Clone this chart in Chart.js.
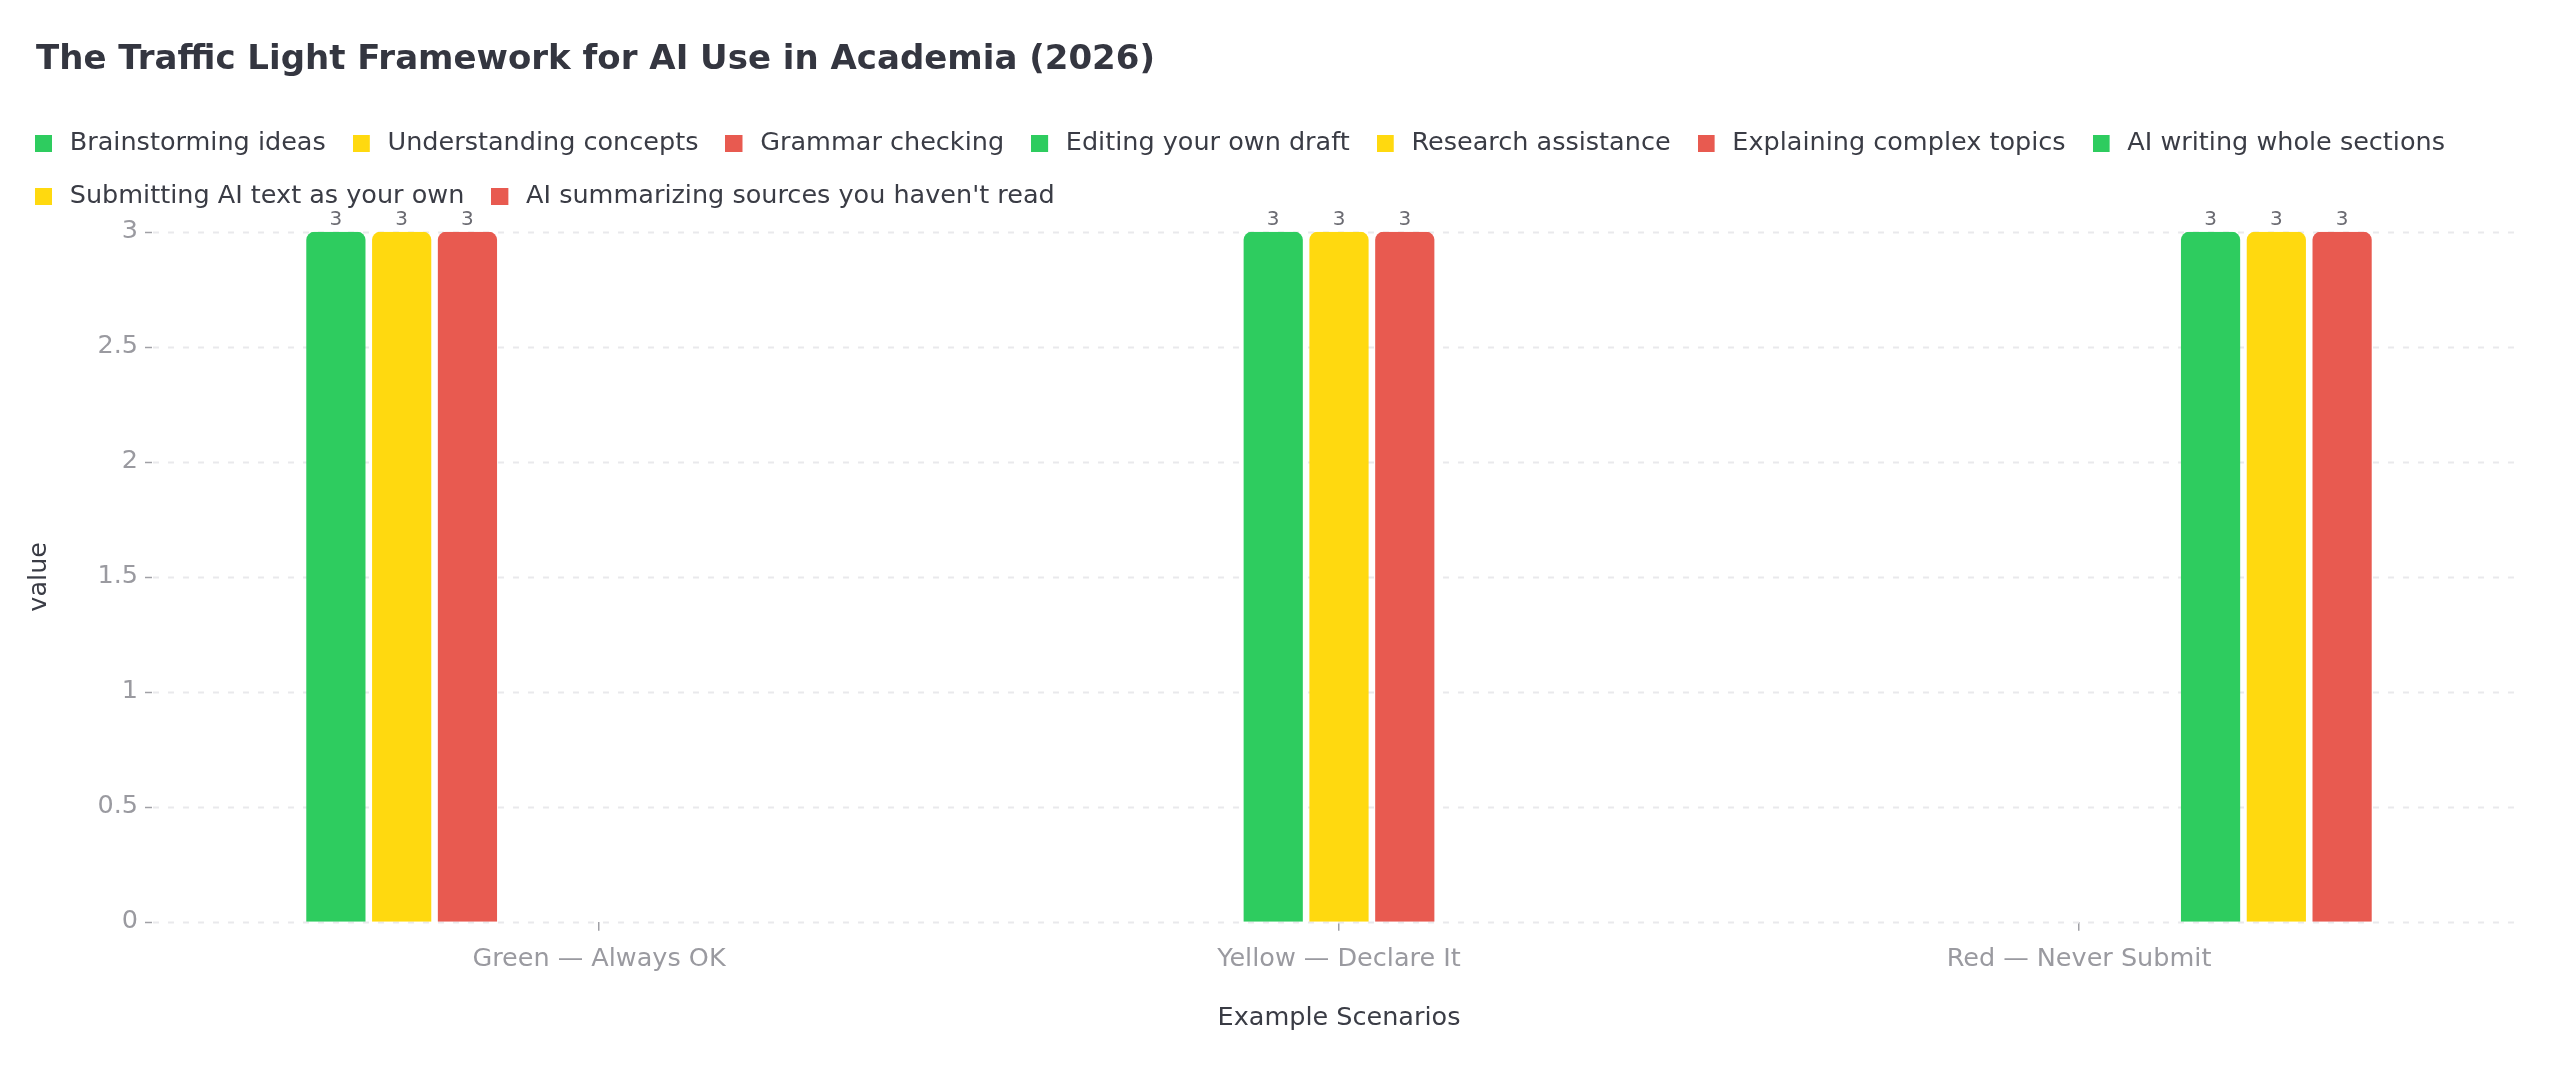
<!DOCTYPE html>
<html>
<head>
<meta charset="utf-8">
<script src="https://cdn.jsdelivr.net/npm/chart.js@4.4.1/dist/chart.umd.min.js"></script>
<style>
	html, body { margin: 0; padding: 0; background: #fff; }
	#wrap { width: 2560px; height: 1067px; }
</style>
</head>
<body>
<div id="wrap"><canvas id="chart"></canvas></div>
<script>
// categories on the x axis
const categories = ['Green \u2014 Always OK', 'Yellow \u2014 Declare It', 'Red \u2014 Never Submit'];

// one series per scenario, each only present in its own category
const seriesNames = [
	'Brainstorming ideas',
	'Understanding concepts',
	'Grammar checking',
	'Editing your own draft',
	'Research assistance',
	'Explaining complex topics',
	'AI writing whole sections',
	'Submitting AI text as your own',
	"AI summarizing sources you haven't read",
];
const seriesValues = [
	[3, null, null],
	[3, null, null],
	[3, null, null],
	[null, 3, null],
	[null, 3, null],
	[null, 3, null],
	[null, null, 3],
	[null, null, 3],
	[null, null, 3],
];
const yTicks = [0, 0.5, 1, 1.5, 2, 2.5, 3];

const palette = ['#2ecc5f', '#ffd90f', '#e85a50'];
const FONT = "'DejaVu Sans', sans-serif";

// legend marker: a square at the left of a slightly wider transparent tile
function swatch(color) {
	const c = document.createElement('canvas');
	c.width = 22;
	c.height = 17;
	const g = c.getContext('2d');
	g.fillStyle = color;
	g.fillRect(0, 0, 17, 17);
	return c;
}

let datasets = [];
for(let i=0; i<seriesNames.length; i++)
{
	datasets.push({
		label: seriesNames[i],
		data: seriesValues[i],
		backgroundColor: palette[i%3],
		pointStyle: swatch(palette[i%3]),
		borderWidth: 0,
		borderRadius: 8,
		categoryPercentage: 0.8,
		barPercentage: 0.9,
	});
}

// dashed grid that runs wider than the plot area, plus the small y tick marks
const wideGrid = {
	id: 'wideGrid',
	beforeDatasetsDraw(chart) {
		const ctx = chart.ctx;
		const y = chart.scales.y;
		const a = chart.chartArea;
		const x1 = a.left - 76, x2 = a.right + 71;
		ctx.save();
		for(const t of y.ticks)
		{
			const py = Math.round(y.getPixelForValue(t.value)) + 0.5;
			ctx.setLineDash([6, 9]);
			ctx.strokeStyle = '#e9e9ec';
			ctx.lineWidth = 2;
			ctx.beginPath();
			ctx.moveTo(x1, py);
			ctx.lineTo(x2, py);
			ctx.stroke();
			ctx.setLineDash([]);
			ctx.strokeStyle = '#a0a0a6';
			ctx.lineWidth = 1.5;
			ctx.beginPath();
			ctx.moveTo(x1 - 8, py);
			ctx.lineTo(x1 - 1, py);
			ctx.stroke();
		}
		ctx.restore();
	}
};

// value written above each bar
const barLabels = {
	id: 'barLabels',
	afterDatasetsDraw(chart) {
		const ctx = chart.ctx;
		ctx.save();
		ctx.font = '20px ' + FONT;
		ctx.fillStyle = '#6b6b72';
		ctx.textAlign = 'center';
		ctx.textBaseline = 'bottom';
		chart.data.datasets.forEach((ds, i) => {
			chart.getDatasetMeta(i).data.forEach((bar, j) => {
				if(ds.data[j]===null) return;
				ctx.fillText(String(ds.data[j]), bar.x, bar.y - 2);
			});
		});
		ctx.restore();
	}
};

// title sits a little right, legend gets extra room below
// and may use the full page width for its rows
const LEGEND_EXTRA = 200;
const blockTweaks = {
	id: 'blockTweaks',
	beforeInit(chart) {
		const legend = chart.legend;
		const fit = legend.fit;
		legend.fit = function() {
			this.maxWidth += LEGEND_EXTRA;
			fit.call(this);
			this.height += 13;
		};
	},
	afterLayout(chart) {
		chart.titleBlock.left += 30;
		chart.titleBlock.right += 30;
		chart.legend.left += 2;
		chart.legend.right += 2 + LEGEND_EXTRA;
	}
};

new Chart(document.getElementById('chart'), {
	type: 'bar',
	data: {
		labels: categories,
		datasets: datasets,
	},
	plugins: [wideGrid, barLabels, blockTweaks],
	options: {
		responsive: true,
		maintainAspectRatio: false,
		animation: false,
		layout: {
			padding: {left: 6, right: 111, top: 40, bottom: 33},
		},
		plugins: {
			title: {
				display: true,
				text: 'The Traffic Light Framework for AI Use in Academia (2026)',
				align: 'start',
				color: '#343640',
				font: {family: FONT, size: 34, weight: 'bold'},
				padding: {top: 0, bottom: 23},
			},
			legend: {
				position: 'top',
				align: 'start',
				labels: {
					usePointStyle: true,
					pointStyleWidth: 22,
					boxHeight: 17,
					color: '#3a3c45',
					font: {family: FONT, size: 25.5},
					padding: 27,
				},
			},
			tooltip: {enabled: false},
		},
		scales: {
			x: {
				grid: {
					display: true,
					drawOnChartArea: false,
					drawTicks: true,
					tickLength: 9,
					offset: false,
					color: '#a0a0a6',
					lineWidth: 1.5,
				},
				border: {display: false},
				ticks: {
					color: '#9a9aa0',
					font: {family: FONT, size: 25.5},
					padding: 13,
				},
				title: {
					display: true,
					text: 'Example Scenarios',
					color: '#3a3c45',
					font: {family: FONT, size: 25.5},
					padding: {top: 16, bottom: 0},
				},
			},
			y: {
				min: 0,
				max: 3,
				afterBuildTicks(scale) {
					scale.ticks = yTicks.map(v => ({value: v}));
				},
				grid: {display: false, drawTicks: false},
				border: {display: false},
				ticks: {
					color: '#9a9aa0',
					font: {family: FONT, size: 25.5},
					padding: 91,
					callback: v => String(v),
				},
				title: {
					display: true,
					text: 'value',
					color: '#3a3c45',
					font: {family: FONT, size: 25.5},
					padding: {top: 18, bottom: 0},
				},
				afterFit(scale) {
					scale.width = 223;
				},
			},
		},
	},
});
</script>
</body>
</html>
